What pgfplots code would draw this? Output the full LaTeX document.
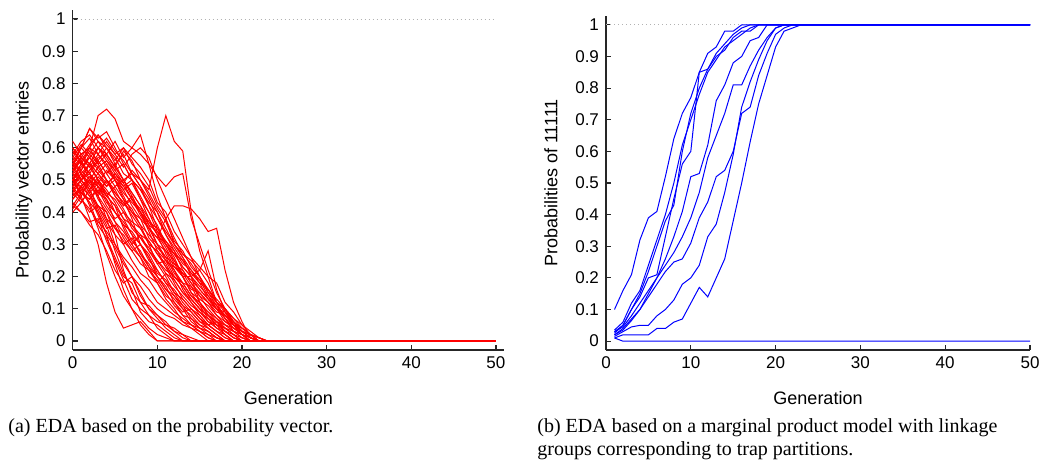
\documentclass[border=0pt]{standalone}
\usepackage{fontspec}
\setmainfont{Liberation Serif}
\newfontfamily\axfont{Liberation Sans}
\usepackage{pgfplots}
\pgfplotsset{compat=1.18}

\pgfplotscreateplotcyclelist{redlines}{red, line width=0.5pt, mark=none\\}
\pgfplotscreateplotcyclelist{bluelines}{blue, line width=0.5pt, mark=none\\}

\pgfplotsset{
  edastyle/.style={
    scale only axis,
    axis lines*=left,
    axis line style={black!85, line width=0.7pt},
    tick style={black!85, line width=0.6pt},
    tick align=inside,
    major tick length=2.5pt,
    xmin=0,
    ymin=-0.028, ymax=1.028,
    xtick={0,10,20,30,40,50},
    ytick={0,0.1,0.2,0.3,0.4,0.5,0.6,0.7,0.8,0.9,1},
    /pgf/number format/assume math mode=true,
    ticklabel style={font=\axfont\fontsize{8.5}{10}\selectfont},
    label style={font=\axfont\fontsize{9}{11}\selectfont},
    xlabel={Generation},
    xlabel style={yshift=-4.5pt},
    clip=false,
  },
}

\begin{document}
\begin{tikzpicture}
\useasboundingbox (0,0) rectangle (520pt,-230pt);

% (a) probability vector entries
\begin{axis}[edastyle,
  at={(36.35pt,-175pt)}, anchor=south west,
  width=215.6pt, height=170pt,
  xmax=50.94,
  ylabel={Probability vector entries},
  ylabel style={yshift=-2pt},
  cycle list name=redlines,
]
\addplot[gray!60, dash pattern=on 0.5pt off 1.5pt, forget plot] coordinates {(0,1) (50,1)};
\addplot coordinates {(0,0.5)(1,0.45)(2,0.38)(3,0.3)(4,0.18)(5,0.09)(6,0.04)(7,0.05)(8,0.06)(9,0.03)(10,0)(50,0)};
\addplot coordinates {(0,0.45)(1,0.48)(2,0.42)(3,0.35)(4,0.27)(5,0.2)(6,0.14)(7,0.1)(8,0.07)(9,0.04)(10,0.02)(11,0.01)(12,0)(50,0)};
\addplot coordinates {(0,0.55)(1,0.5)(2,0.46)(3,0.4)(4,0.33)(5,0.24)(6,0.16)(7,0.1)(8,0.05)(9,0.02)(10,0)(50,0)};
\addplot coordinates {(0,0.48)(1,0.52)(2,0.47)(3,0.41)(4,0.36)(5,0.28)(6,0.21)(7,0.16)(8,0.09)(9,0.06)(10,0.05)(11,0.03)(12,0.01)(13,0)(50,0)};
\addplot coordinates {(0,0.42)(1,0.4)(2,0.37)(3,0.38)(4,0.31)(5,0.25)(6,0.19)(7,0.13)(8,0.1)(9,0.08)(10,0.04)(11,0.02)(12,0)(50,0)};
\addplot coordinates {(0,0.53)(1,0.56)(2,0.5)(3,0.44)(4,0.4)(5,0.33)(6,0.22)(7,0.15)(8,0.12)(9,0.08)(10,0.06)(11,0.05)(12,0.03)(13,0.01)(14,0)(50,0)};
\addplot coordinates {(0,0.6)(1,0.55)(2,0.52)(3,0.45)(4,0.38)(5,0.3)(6,0.25)(7,0.2)(8,0.14)(9,0.1)(10,0.07)(11,0.04)(12,0.02)(13,0)(50,0)};
\addplot coordinates {(0,0.5)(1,0.46)(2,0.43)(3,0.36)(4,0.32)(5,0.26)(6,0.2)(7,0.18)(8,0.12)(9,0.11)(10,0.08)(11,0.05)(12,0.04)(13,0.02)(14,0.01)(15,0)(50,0)};
\addplot coordinates {(0,0.52)(1,0.57)(2,0.54)(3,0.5)(4,0.47)(5,0.43)(6,0.38)(7,0.33)(8,0.27)(9,0.23)(10,0.18)(11,0.13)(12,0.1)(13,0.06)(14,0.04)(15,0.02)(16,0)(50,0)};
\addplot coordinates {(0,0.47)(1,0.5)(2,0.55)(3,0.52)(4,0.48)(5,0.5)(6,0.44)(7,0.38)(8,0.3)(9,0.26)(10,0.2)(11,0.17)(12,0.12)(13,0.08)(14,0.05)(15,0.03)(16,0.01)(17,0)(50,0)};
\addplot coordinates {(0,0.58)(1,0.6)(2,0.63)(3,0.58)(4,0.55)(5,0.5)(6,0.45)(7,0.4)(8,0.36)(9,0.3)(10,0.24)(11,0.2)(12,0.15)(13,0.11)(14,0.07)(15,0.05)(16,0.03)(17,0.01)(18,0)(50,0)};
\addplot coordinates {(0,0.44)(1,0.47)(2,0.5)(3,0.48)(4,0.43)(5,0.4)(6,0.36)(7,0.34)(8,0.3)(9,0.27)(10,0.22)(11,0.18)(12,0.16)(13,0.12)(14,0.09)(15,0.06)(16,0.04)(17,0.02)(18,0)(50,0)};
\addplot coordinates {(0,0.56)(1,0.53)(2,0.58)(3,0.62)(4,0.6)(5,0.57)(6,0.52)(7,0.5)(8,0.44)(9,0.38)(10,0.33)(11,0.27)(12,0.22)(13,0.16)(14,0.12)(15,0.08)(16,0.05)(17,0.03)(18,0.01)(19,0)(50,0)};
\addplot coordinates {(0,0.5)(1,0.46)(2,0.44)(3,0.47)(4,0.42)(5,0.38)(6,0.4)(7,0.35)(8,0.32)(9,0.28)(10,0.24)(11,0.25)(12,0.2)(13,0.17)(14,0.13)(15,0.1)(16,0.06)(17,0.04)(18,0.02)(19,0)(50,0)};
\addplot coordinates {(0,0.54)(1,0.6)(2,0.66)(3,0.63)(4,0.65)(5,0.6)(6,0.55)(7,0.5)(8,0.47)(9,0.42)(10,0.35)(11,0.3)(12,0.25)(13,0.2)(14,0.15)(15,0.11)(16,0.07)(17,0.05)(18,0.02)(19,0)(50,0)};
\addplot coordinates {(0,0.49)(1,0.52)(2,0.48)(3,0.45)(4,0.5)(5,0.47)(6,0.42)(7,0.44)(8,0.39)(9,0.35)(10,0.3)(11,0.28)(12,0.23)(13,0.21)(14,0.17)(15,0.12)(16,0.09)(17,0.06)(18,0.03)(19,0.01)(20,0)(50,0)};
\addplot coordinates {(0,0.57)(1,0.55)(2,0.59)(3,0.56)(4,0.52)(5,0.48)(6,0.5)(7,0.46)(8,0.42)(9,0.36)(10,0.3)(11,0.26)(12,0.21)(13,0.18)(14,0.14)(15,0.12)(16,0.08)(17,0.06)(18,0.04)(19,0.02)(20,0)(50,0)};
\addplot coordinates {(0,0.46)(1,0.43)(2,0.47)(3,0.42)(4,0.38)(5,0.35)(6,0.31)(7,0.28)(8,0.3)(9,0.26)(10,0.21)(11,0.19)(12,0.15)(13,0.13)(14,0.1)(15,0.08)(16,0.05)(17,0.03)(18,0.02)(19,0)(50,0)};
\addplot coordinates {(0,0.52)(1,0.5)(2,0.53)(3,0.57)(4,0.58)(5,0.54)(6,0.59)(7,0.56)(8,0.5)(9,0.45)(10,0.4)(11,0.33)(12,0.28)(13,0.22)(14,0.18)(15,0.14)(16,0.1)(17,0.07)(18,0.04)(19,0.02)(20,0)(50,0)};
\addplot coordinates {(0,0.41)(1,0.45)(2,0.5)(3,0.46)(4,0.44)(5,0.4)(6,0.37)(7,0.33)(8,0.3)(9,0.25)(10,0.22)(11,0.18)(12,0.14)(13,0.1)(14,0.08)(15,0.05)(16,0.04)(17,0.02)(18,0)(50,0)};
\addplot coordinates {(0,0.55)(1,0.58)(2,0.6)(3,0.7)(4,0.72)(5,0.69)(6,0.62)(7,0.6)(8,0.64)(9,0.55)(10,0.45)(11,0.38)(12,0.3)(13,0.26)(14,0.2)(15,0.12)(16,0.08)(17,0.05)(18,0.03)(19,0.01)(20,0)(50,0)};
\addplot coordinates {(0,0.51)(1,0.54)(2,0.57)(3,0.54)(4,0.56)(5,0.52)(6,0.48)(7,0.5)(8,0.45)(9,0.4)(10,0.36)(11,0.3)(12,0.26)(13,0.2)(14,0.15)(15,0.13)(16,0.11)(17,0.08)(18,0.05)(19,0.03)(20,0.01)(21,0)(50,0)};
\addplot coordinates {(0,0.48)(1,0.44)(2,0.4)(3,0.42)(4,0.37)(5,0.33)(6,0.3)(7,0.32)(8,0.27)(9,0.24)(10,0.2)(11,0.16)(12,0.13)(13,0.1)(14,0.06)(15,0.04)(16,0.03)(17,0.01)(18,0)(50,0)};
\addplot coordinates {(0,0.59)(1,0.56)(2,0.6)(3,0.64)(4,0.61)(5,0.58)(6,0.6)(7,0.55)(8,0.52)(9,0.48)(10,0.42)(11,0.38)(12,0.32)(13,0.27)(14,0.24)(15,0.2)(16,0.15)(17,0.11)(18,0.07)(19,0.04)(20,0.02)(21,0)(50,0)};
\addplot coordinates {(0,0.5)(1,0.55)(2,0.52)(3,0.56)(4,0.6)(5,0.55)(6,0.58)(7,0.52)(8,0.5)(9,0.47)(10,0.6)(11,0.7)(12,0.62)(13,0.59)(14,0.4)(15,0.28)(16,0.2)(17,0.12)(18,0.07)(19,0.03)(20,0.01)(21,0)(50,0)};
\addplot coordinates {(0,0.53)(1,0.57)(2,0.55)(3,0.6)(4,0.58)(5,0.62)(6,0.57)(7,0.6)(8,0.58)(9,0.55)(10,0.51)(11,0.48)(12,0.51)(13,0.52)(14,0.38)(15,0.3)(16,0.22)(17,0.15)(18,0.1)(19,0.05)(20,0.02)(21,0)(50,0)};
\addplot coordinates {(0,0.5)(1,0.48)(2,0.5)(3,0.46)(4,0.5)(5,0.45)(6,0.42)(7,0.45)(8,0.4)(9,0.35)(10,0.32)(11,0.38)(12,0.42)(13,0.42)(14,0.41)(15,0.38)(16,0.34)(17,0.35)(18,0.22)(19,0.12)(20,0.06)(21,0.01)(22,0)(50,0)};
\addplot coordinates {(0,0.53)(1,0.5)(2,0.47)(3,0.5)(4,0.46)(5,0.44)(6,0.4)(7,0.37)(8,0.35)(9,0.3)(10,0.28)(11,0.25)(12,0.23)(13,0.2)(14,0.2)(15,0.22)(16,0.28)(17,0.16)(18,0.09)(19,0.05)(20,0.02)(21,0)(50,0)};
\addplot coordinates {(0,0.55)(1,0.58)(2,0.55)(3,0.6)(4,0.56)(5,0.53)(6,0.55)(7,0.5)(8,0.47)(9,0.43)(10,0.4)(11,0.35)(12,0.3)(13,0.27)(14,0.25)(15,0.22)(16,0.18)(17,0.12)(18,0.1)(19,0.06)(20,0.04)(21,0.02)(22,0)(50,0)};
\addplot coordinates {(0,0.5)(1,0.53)(2,0.5)(3,0.54)(4,0.5)(5,0.46)(6,0.43)(7,0.4)(8,0.38)(9,0.35)(10,0.32)(11,0.28)(12,0.25)(13,0.21)(14,0.19)(15,0.16)(16,0.13)(17,0.1)(18,0.09)(19,0.06)(20,0.03)(21,0.02)(22,0.01)(23,0)(50,0)};
\addplot coordinates {(0,0.47)(1,0.5)(2,0.46)(3,0.49)(4,0.45)(5,0.48)(6,0.44)(7,0.41)(8,0.36)(9,0.33)(10,0.3)(11,0.25)(12,0.22)(13,0.18)(14,0.17)(15,0.14)(16,0.12)(17,0.08)(18,0.06)(19,0.04)(20,0.03)(21,0.01)(22,0)(50,0)};
\addplot coordinates {(0,0.56)(1,0.52)(2,0.55)(3,0.52)(4,0.49)(5,0.51)(6,0.47)(7,0.49)(8,0.44)(9,0.4)(10,0.34)(11,0.31)(12,0.28)(13,0.24)(14,0.22)(15,0.18)(16,0.16)(17,0.12)(18,0.1)(19,0.07)(20,0.05)(21,0.03)(22,0.01)(23,0)(50,0)};
\addplot coordinates {(0,0.62)(1,0.58)(2,0.6)(3,0.55)(4,0.58)(5,0.54)(6,0.5)(7,0.52)(8,0.48)(9,0.42)(10,0.38)(11,0.33)(12,0.29)(13,0.25)(14,0.21)(15,0.19)(16,0.14)(17,0.11)(18,0.08)(19,0.05)(20,0.03)(21,0.01)(22,0)(50,0)};
\addplot coordinates {(0,0.4)(1,0.43)(2,0.47)(3,0.51)(4,0.48)(5,0.52)(6,0.49)(7,0.53)(8,0.5)(9,0.46)(10,0.41)(11,0.37)(12,0.31)(13,0.28)(14,0.23)(15,0.2)(16,0.15)(17,0.12)(18,0.09)(19,0.05)(20,0.02)(21,0)(50,0)};
\addplot coordinates {(0,0.54)(1,0.57)(2,0.61)(3,0.64)(4,0.6)(5,0.56)(6,0.6)(7,0.57)(8,0.54)(9,0.5)(10,0.43)(11,0.4)(12,0.34)(13,0.3)(14,0.26)(15,0.23)(16,0.2)(17,0.18)(18,0.12)(19,0.09)(20,0.05)(21,0.02)(22,0)(50,0)};
\addplot coordinates {(0,0.45)(1,0.48)(2,0.51)(3,0.49)(4,0.53)(5,0.5)(6,0.46)(7,0.43)(8,0.4)(9,0.36)(10,0.34)(11,0.3)(12,0.27)(13,0.23)(14,0.2)(15,0.17)(16,0.14)(17,0.1)(18,0.07)(19,0.05)(20,0.03)(21,0.01)(22,0)(50,0)};
\addplot coordinates {(0,0.5)(1,0.55)(2,0.6)(3,0.58)(4,0.62)(5,0.58)(6,0.54)(7,0.58)(8,0.6)(9,0.57)(10,0.5)(11,0.44)(12,0.38)(13,0.32)(14,0.26)(15,0.2)(16,0.16)(17,0.12)(18,0.1)(19,0.06)(20,0.03)(21,0.02)(22,0)(50,0)};
\addplot coordinates {(0,0.55)(1,0.6)(2,0.66)(3,0.62)(4,0.58)(5,0.54)(6,0.5)(7,0.45)(8,0.4)(9,0.34)(10,0.28)(11,0.23)(12,0.18)(13,0.13)(14,0.1)(15,0.07)(16,0.04)(17,0.02)(18,0)(50,0)};
\addplot coordinates {(0,0.43)(1,0.4)(2,0.36)(3,0.33)(4,0.28)(5,0.22)(6,0.18)(7,0.2)(8,0.15)(9,0.1)(10,0.08)(11,0.06)(12,0.03)(13,0.02)(14,0)(50,0)};
\addplot coordinates {(0,0.52)(1,0.49)(2,0.45)(3,0.39)(4,0.33)(5,0.29)(6,0.24)(7,0.2)(8,0.17)(9,0.13)(10,0.1)(11,0.08)(12,0.07)(13,0.05)(14,0.04)(15,0.03)(16,0.02)(17,0.01)(18,0)(50,0)};
\addplot coordinates {(0,0.48)(1,0.51)(2,0.55)(3,0.5)(4,0.45)(5,0.42)(6,0.35)(7,0.3)(8,0.26)(9,0.2)(10,0.18)(11,0.14)(12,0.12)(13,0.09)(14,0.1)(15,0.07)(16,0.05)(17,0.06)(18,0.03)(19,0.02)(20,0)(50,0)};
\addplot coordinates {(0,0.54)(1,0.5)(2,0.52)(3,0.48)(4,0.44)(5,0.37)(6,0.32)(7,0.28)(8,0.24)(9,0.22)(10,0.19)(11,0.15)(12,0.11)(13,0.08)(14,0.07)(15,0.04)(16,0.02)(17,0)(50,0)};
\addplot coordinates {(0,0.57)(1,0.61)(2,0.58)(3,0.55)(4,0.5)(5,0.45)(6,0.41)(7,0.36)(8,0.32)(9,0.29)(10,0.25)(11,0.22)(12,0.2)(13,0.17)(14,0.13)(15,0.1)(16,0.08)(17,0.06)(18,0.05)(19,0.03)(20,0.02)(21,0.01)(22,0)(50,0)};
\addplot coordinates {(0,0.46)(1,0.5)(2,0.53)(3,0.56)(4,0.52)(5,0.55)(6,0.5)(7,0.46)(8,0.42)(9,0.38)(10,0.33)(11,0.29)(12,0.24)(13,0.22)(14,0.18)(15,0.15)(16,0.12)(17,0.1)(18,0.06)(19,0.05)(20,0.02)(21,0)(50,0)};
\addplot coordinates {(0,0.51)(1,0.47)(2,0.43)(3,0.4)(4,0.35)(5,0.36)(6,0.3)(7,0.25)(8,0.21)(9,0.19)(10,0.15)(11,0.12)(12,0.09)(13,0.07)(14,0.05)(15,0.03)(16,0.01)(17,0)(50,0)};
\addplot coordinates {(0,0.6)(1,0.57)(2,0.54)(3,0.58)(4,0.54)(5,0.5)(6,0.47)(7,0.42)(8,0.38)(9,0.32)(10,0.29)(11,0.26)(12,0.24)(13,0.2)(14,0.16)(15,0.15)(16,0.12)(17,0.09)(18,0.08)(19,0.05)(20,0.04)(21,0.02)(22,0.01)(23,0)(50,0)};
\addplot coordinates {(0,0.44)(1,0.48)(2,0.45)(3,0.42)(4,0.4)(5,0.35)(6,0.33)(7,0.29)(8,0.26)(9,0.22)(10,0.18)(11,0.21)(12,0.17)(13,0.14)(14,0.11)(15,0.09)(16,0.07)(17,0.04)(18,0.03)(19,0.01)(20,0)(50,0)};
\addplot coordinates {(0,0.55)(1,0.52)(2,0.49)(3,0.52)(4,0.55)(5,0.51)(6,0.48)(7,0.44)(8,0.41)(9,0.37)(10,0.35)(11,0.31)(12,0.27)(13,0.25)(14,0.21)(15,0.18)(16,0.13)(17,0.1)(18,0.08)(19,0.06)(20,0.03)(21,0.01)(22,0)(50,0)};
\addplot coordinates {(0,0.49)(1,0.46)(2,0.49)(3,0.45)(4,0.41)(5,0.37)(6,0.34)(7,0.3)(8,0.33)(9,0.28)(10,0.25)(11,0.21)(12,0.19)(13,0.15)(14,0.12)(15,0.09)(16,0.06)(17,0.05)(18,0.04)(19,0.02)(20,0.01)(21,0)(50,0)};
\addplot coordinates {(0,0.58)(1,0.62)(2,0.64)(3,0.6)(4,0.57)(5,0.53)(6,0.49)(7,0.44)(8,0.4)(9,0.37)(10,0.33)(11,0.3)(12,0.27)(13,0.23)(14,0.2)(15,0.16)(16,0.13)(17,0.11)(18,0.08)(19,0.05)(20,0.03)(21,0.02)(22,0)(50,0)};
\addplot coordinates {(0,0.42)(1,0.46)(2,0.44)(3,0.48)(4,0.45)(5,0.42)(6,0.38)(7,0.36)(8,0.33)(9,0.31)(10,0.27)(11,0.23)(12,0.2)(13,0.18)(14,0.14)(15,0.11)(16,0.09)(17,0.07)(18,0.05)(19,0.04)(20,0.02)(21,0.01)(22,0)(50,0)};
\addplot coordinates {(0,0.53)(1,0.56)(2,0.52)(3,0.49)(4,0.46)(5,0.4)(6,0.36)(7,0.31)(8,0.28)(9,0.23)(10,0.2)(11,0.16)(12,0.14)(13,0.11)(14,0.09)(15,0.06)(16,0.05)(17,0.03)(18,0.01)(19,0)(50,0)};
\addplot coordinates {(0,0.5)(1,0.53)(2,0.57)(3,0.6)(4,0.63)(5,0.59)(6,0.56)(7,0.52)(8,0.48)(9,0.44)(10,0.38)(11,0.34)(12,0.3)(13,0.26)(14,0.22)(15,0.19)(16,0.16)(17,0.13)(18,0.1)(19,0.07)(20,0.04)(21,0.02)(22,0.01)(23,0)(50,0)};
\addplot coordinates {(0,0.47)(1,0.44)(2,0.41)(3,0.37)(4,0.34)(5,0.3)(6,0.26)(7,0.23)(8,0.19)(9,0.16)(10,0.12)(11,0.1)(12,0.08)(13,0.06)(14,0.05)(15,0.04)(16,0.03)(17,0.01)(18,0)(50,0)};
\addplot coordinates {(0,0.56)(1,0.6)(2,0.57)(3,0.53)(4,0.5)(5,0.46)(6,0.43)(7,0.39)(8,0.35)(9,0.31)(10,0.27)(11,0.24)(12,0.19)(13,0.15)(14,0.13)(15,0.1)(16,0.08)(17,0.05)(18,0.04)(19,0.03)(20,0.02)(21,0)(50,0)};
\end{axis}

% (b) probabilities of 11111
\begin{axis}[edastyle,
  at={(303pt,-175pt)}, anchor=south west,
  width=212pt, height=167pt,
  xmax=50,
  ylabel={Probabilities of 11111},
  ylabel style={yshift=2pt},
  cycle list name=bluelines,
]
\addplot[gray!60, dash pattern=on 0.5pt off 1.5pt, forget plot] coordinates {(0,1) (50,1)};
\addplot coordinates {(1,0.01)(2,0)(50,0)};
\addplot coordinates {(1,0.10)(2,0.16)(3,0.21)(4,0.32)(5,0.39)(6,0.41)(7,0.52)(8,0.64)(9,0.72)(10,0.77)(11,0.85)(12,0.91)(13,0.93)(14,0.98)(15,0.98)(16,1)(50,1)};
\addplot coordinates {(1,0.03)(2,0.05)(3,0.1)(4,0.14)(5,0.2)(6,0.21)(7,0.33)(8,0.45)(9,0.56)(10,0.6)(11,0.85)(12,0.86)(13,0.9)(14,0.92)(15,0.96)(16,0.98)(17,0.98)(18,1)(50,1)};
\addplot coordinates {(1,0.025)(2,0.05)(3,0.1)(4,0.15)(5,0.22)(6,0.3)(7,0.38)(8,0.43)(9,0.6)(10,0.72)(11,0.8)(12,0.86)(13,0.91)(14,0.94)(15,0.97)(16,0.99)(17,1)(50,1)};
\addplot coordinates {(1,0.035)(2,0.06)(3,0.12)(4,0.16)(5,0.24)(6,0.32)(7,0.4)(8,0.5)(9,0.62)(10,0.7)(11,0.78)(12,0.85)(13,0.89)(14,0.93)(15,0.95)(16,0.97)(17,0.99)(18,1)(50,1)};
\addplot coordinates {(1,0.02)(2,0.04)(3,0.07)(4,0.1)(5,0.15)(6,0.2)(7,0.26)(8,0.33)(9,0.41)(10,0.52)(11,0.53)(12,0.62)(13,0.76)(14,0.81)(15,0.88)(16,0.9)(17,0.95)(18,0.96)(19,1)(50,1)};
\addplot coordinates {(1,0.03)(2,0.045)(3,0.08)(4,0.12)(5,0.16)(6,0.2)(7,0.24)(8,0.28)(9,0.33)(10,0.39)(11,0.47)(12,0.58)(13,0.65)(14,0.72)(15,0.81)(16,0.81)(17,0.87)(18,0.92)(19,0.96)(20,0.99)(21,1)(50,1)};
\addplot coordinates {(1,0.02)(2,0.035)(3,0.065)(4,0.1)(5,0.14)(6,0.18)(7,0.22)(8,0.25)(9,0.26)(10,0.31)(11,0.39)(12,0.44)(13,0.52)(14,0.54)(15,0.6)(16,0.72)(17,0.74)(18,0.84)(19,0.91)(20,0.97)(21,0.99)(22,1)(50,1)};
\addplot coordinates {(1,0.015)(2,0.03)(3,0.045)(4,0.05)(5,0.05)(6,0.08)(7,0.1)(8,0.13)(9,0.18)(10,0.2)(11,0.24)(12,0.33)(13,0.37)(14,0.47)(15,0.59)(16,0.74)(17,0.82)(18,0.89)(19,0.95)(20,0.99)(21,1)(50,1)};
\addplot coordinates {(1,0.01)(2,0.02)(3,0.02)(4,0.02)(5,0.02)(6,0.04)(7,0.04)(8,0.06)(9,0.07)(10,0.12)(11,0.17)(12,0.14)(13,0.2)(14,0.26)(15,0.38)(16,0.5)(17,0.63)(18,0.75)(19,0.84)(20,0.93)(21,0.98)(22,0.99)(23,1)(50,1)};
\end{axis}

\node[anchor=base west, inner sep=0pt, font=\fontsize{10}{11.7}\selectfont] at (4pt,-216pt) {(a) EDA based on the probability vector.};
\node[anchor=base west, inner sep=0pt, align=left, font=\fontsize{10}{11.7}\selectfont] at (268.5pt,-227.7pt) {(b) EDA based on a marginal product model with linkage\\groups corresponding to trap partitions.};
\end{tikzpicture}
\end{document}
